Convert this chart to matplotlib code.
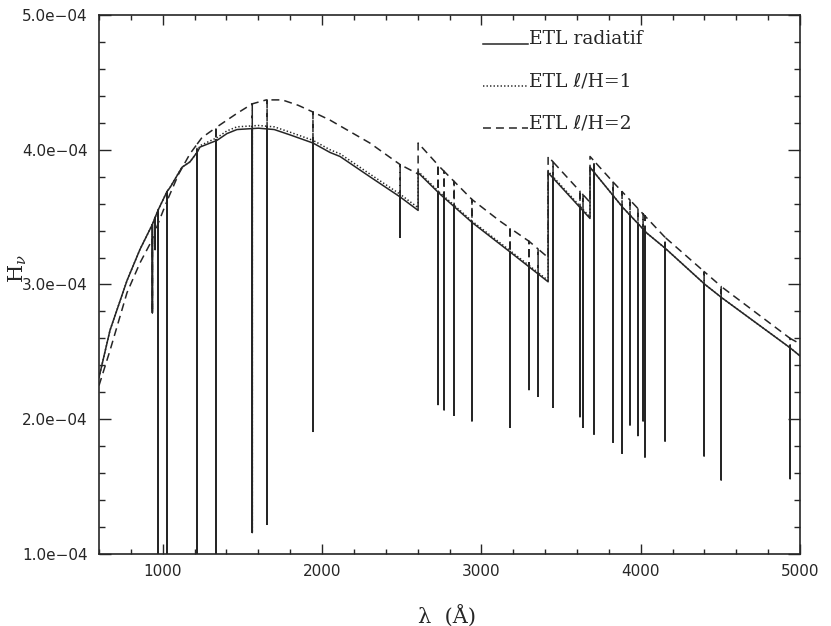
import numpy as np
import matplotlib
matplotlib.use('Agg')
import matplotlib.pyplot as plt
from matplotlib.ticker import MultipleLocator, FuncFormatter

plt.rcParams['mathtext.fontset'] = 'dejavuserif'

""" DATA (H_nu in units of 1e-4) """

# ETL radiatif - continuum (jumps given as repeated wavelengths)
lam_rad = [600, 669, 776, 857, 933, 970, 1027, 1046, 1121, 1171, 1215, 1234, 1341, 1403,
           1466, 1600, 1700, 1800, 1943, 2050, 2113, 2300, 2490, 2603, 2603, 2741, 2942,
           3117, 3419, 3419, 3682, 3682, 3827, 3889, 4040, 4153, 4404, 4511, 4938, 5000]
h_rad = [2.31, 2.66, 3.03, 3.26, 3.44, 3.55, 3.69, 3.72, 3.87, 3.91, 3.98, 4.02, 4.07, 4.12,
         4.15, 4.16, 4.15, 4.11, 4.05, 3.98, 3.95, 3.80, 3.65, 3.55, 3.83, 3.67, 3.46,
         3.30, 3.02, 3.83, 3.49, 3.87, 3.66, 3.57, 3.38, 3.27, 3.00, 2.90, 2.53, 2.47]

# ETL l/H=1
lam_ml1 = [600, 669, 776, 857, 933, 970, 1027, 1046, 1121, 1171, 1215, 1234, 1341, 1403,
           1466, 1600, 1700, 1800, 1943, 2050, 2113, 2300, 2490, 2603, 2603, 2741, 2942,
           3117, 3419, 3419, 3682, 3682, 3827, 3889, 4040, 4153, 4404, 4511, 4938, 5000]
h_ml1 = [2.31, 2.66, 3.03, 3.26, 3.44, 3.55, 3.69, 3.72, 3.87, 3.91, 3.98, 4.03, 4.09, 4.14,
         4.17, 4.18, 4.17, 4.13, 4.07, 4.00, 3.97, 3.82, 3.67, 3.57, 3.84, 3.68, 3.47,
         3.31, 3.03, 3.84, 3.50, 3.87, 3.66, 3.57, 3.38, 3.27, 3.00, 2.90, 2.53, 2.47]

# ETL l/H=2
lam_ml2 = [600, 669, 776, 857, 933, 970, 1027, 1100, 1171, 1246, 1341, 1466, 1560, 1650,
           1750, 1850, 1943, 2050, 2300, 2490, 2603, 2603, 2741, 2942, 3117, 3300, 3419,
           3419, 3682, 3682, 3827, 4153, 4404, 4511, 4938, 5000]
h_ml2 = [2.25, 2.51, 2.94, 3.16, 3.33, 3.45, 3.62, 3.82, 3.97, 4.09, 4.17, 4.27, 4.34, 4.37,
         4.37, 4.33, 4.28, 4.22, 4.05, 3.89, 3.82, 4.05, 3.87, 3.63, 3.47, 3.32, 3.20,
         3.95, 3.61, 3.95, 3.76, 3.35, 3.09, 2.98, 2.60, 2.56]

# absorption lines: wavelength and bottom of the line
line_lam = [935, 952, 970, 1027, 1215, 1334, 1562, 1655, 1943, 2490, 2728, 2766, 2829,
            2941, 3180, 3299, 3356, 3450, 3619, 3638, 3707, 3827, 3883, 3933, 3983, 4015,
            4027, 4153, 4398, 4505, 4938]
line_bot = [2.79, 3.26, 0.8, 0.8, 0.8, 0.8, 1.16, 1.22, 1.91, 3.35, 2.11, 2.07, 2.03,
            1.99, 1.94, 2.22, 2.17, 2.09, 2.02, 1.94, 1.89, 1.83, 1.75, 1.96, 1.88, 1.99,
            1.72, 1.84, 1.73, 1.55, 1.56]

labels = ['ETL radiatif', 'ETL \u2113/H=1', 'ETL \u2113/H=2']


def with_lines(lam, h):
    """ insert the absorption lines as vertical drops into the continuum """
    xs = list(lam)
    ys = list(h)
    for l, b in sorted(zip(line_lam, line_bot), reverse=True):
        top = np.interp(l, lam, h)
        i = int(np.searchsorted(lam, l, side='right'))
        xs[i:i] = [l, l, l]
        ys[i:i] = [top, b, top]
    return np.array(xs), np.array(ys) * 1e-4


fig = plt.figure(figsize=(8.31, 6.26), dpi=100)
ax = fig.add_axes([99 / 831, 1 - 554 / 626, 701 / 831, 539 / 626])

col = '#262626'
lw = 1.1
serif = ['DejaVu Serif', 'DejaVu Sans']
x1, y1 = with_lines(lam_rad, h_rad)
x2, y2 = with_lines(lam_ml1, h_ml1)
x3, y3 = with_lines(lam_ml2, h_ml2)
ax.plot(x3, y3, color=col, lw=lw, dashes=(5.2, 3.3))
ax.plot(x2, y2, color=col, lw=lw, dashes=(0.9, 1.4))
ax.plot(x1, y1, color=col, lw=lw)

ax.set_xlim(600, 5000)
ax.set_ylim(1e-4, 5e-4)

# legend drawn by hand, the way the original has it
styles = [dict(), dict(dashes=(0.9, 1.4)), dict(dashes=(5.2, 3.3))]
for k, (lab, st) in enumerate(zip(labels, styles)):
    yy = 0.946 - k * 0.078
    ax.plot([0.548, 0.612], [yy, yy], transform=ax.transAxes, color=col, lw=lw, **st)
    ax.text(0.614, yy, lab, transform=ax.transAxes, fontsize=13.5, family=serif,
            color=col, va='baseline', ha='left')

ax.xaxis.set_major_locator(MultipleLocator(1000))
ax.xaxis.set_minor_locator(MultipleLocator(200))
ax.yaxis.set_major_locator(MultipleLocator(1e-4))
ax.yaxis.set_minor_locator(MultipleLocator(2e-5))
ax.yaxis.set_major_formatter(FuncFormatter(lambda v, p: ('%.1e' % v).replace('-', '\u2212')))

ax.tick_params(which='both', direction='in', top=True, right=True, color=col, width=1.0,
               labelsize=11, labelcolor=col)
ax.tick_params(axis='x', which='major', length=7, pad=7)
ax.tick_params(axis='x', which='minor', length=3.5)
ax.tick_params(axis='y', which='major', length=8.5, pad=8)
ax.tick_params(axis='y', which='minor', length=4.5)
for t in ax.get_xticklabels():
    t.set_x(t.get_position()[0])
for s in ax.spines.values():
    s.set_linewidth(1.2)
    s.set_color(col)

ax.set_xlabel('\u03bb  (\u00c5)', fontsize=15, family=serif, color=col)
ax.set_ylabel(r'H$_\nu$', fontsize=15, family=serif, color=col)
ax.xaxis.set_label_coords(0.497, -0.094)
ax.yaxis.set_label_coords(-0.100, 0.53)

fig.savefig('out.png', dpi=100)
